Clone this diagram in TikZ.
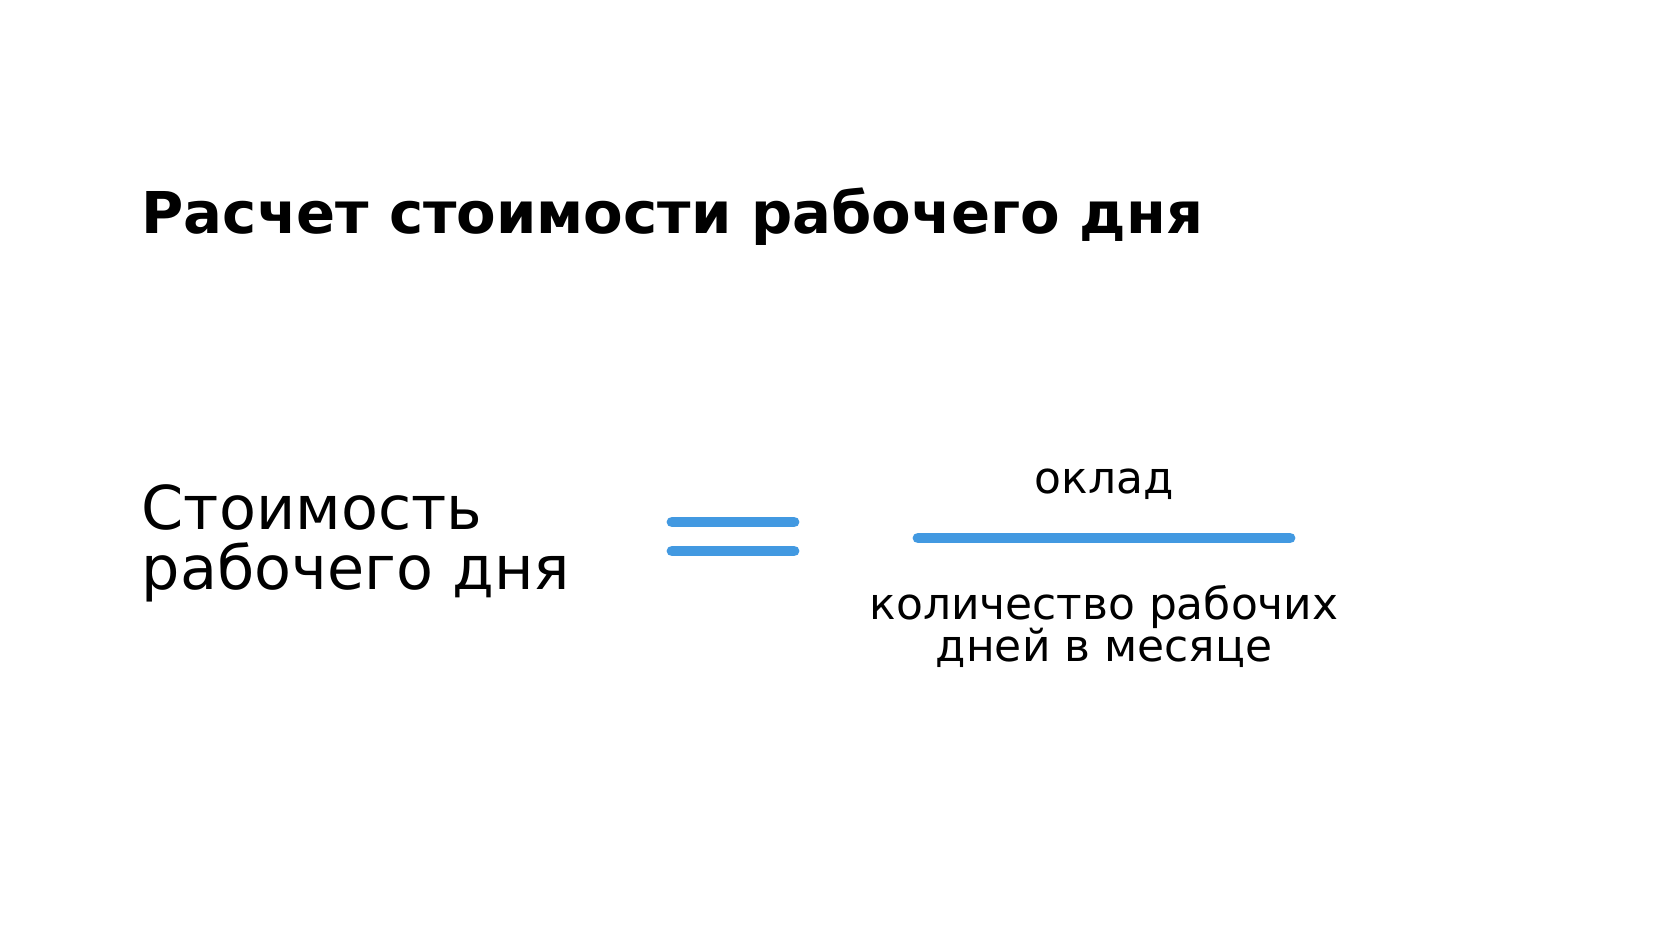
\documentclass[tikz,border=0pt]{standalone}
\usepackage{fontspec}
\setmainfont{DejaVu Sans}
\usepackage{xcolor}
\usetikzlibrary{positioning}
\definecolor{barblue}{HTML}{4299E1}
\lineskiplimit=-50pt

\begin{document}
\begin{tikzpicture}[
  x=0.1mm, y=-0.1mm,
  title/.style={font=\fontsize{16.4}{19}\selectfont\bfseries, inner sep=0pt, anchor=base west},
  term/.style={font=\fontsize{17.2}{16.8}\selectfont, inner sep=0pt, align=left},
  frac/.style={font=\fontsize{12.5}{11.8}\selectfont, inner sep=0pt, align=center},
  bar/.style={line width=3.1pt, line cap=round, draw=barblue}
]
\fill[white] (0,0) rectangle (1680,945);
\node[title] (head) at (141,233) {Расчет стоимости рабочего дня};
\node[term, anchor=base west] (cost) at (141,589) {Стоимость\\рабочего дня};
% equals sign
\coordinate (eqA) at (672,522);
\coordinate (eqB) at (794,522);
\coordinate (eqC) at (672,551);
\coordinate (eqD) at (794,551);
\draw[bar] (eqA) -- (eqB);
\draw[bar] (eqC) -- (eqD);
% fraction
\coordinate (fracL) at (918,538);
\coordinate (fracR) at (1290,538);
\draw[bar] (fracL) -- (fracR);
\node[frac, anchor=base] (num) at (1104,493) {оклад};
\node[frac, anchor=base] (den) at (1104,661) {количество рабочих\\дней в месяце};
\end{tikzpicture}
\end{document}
